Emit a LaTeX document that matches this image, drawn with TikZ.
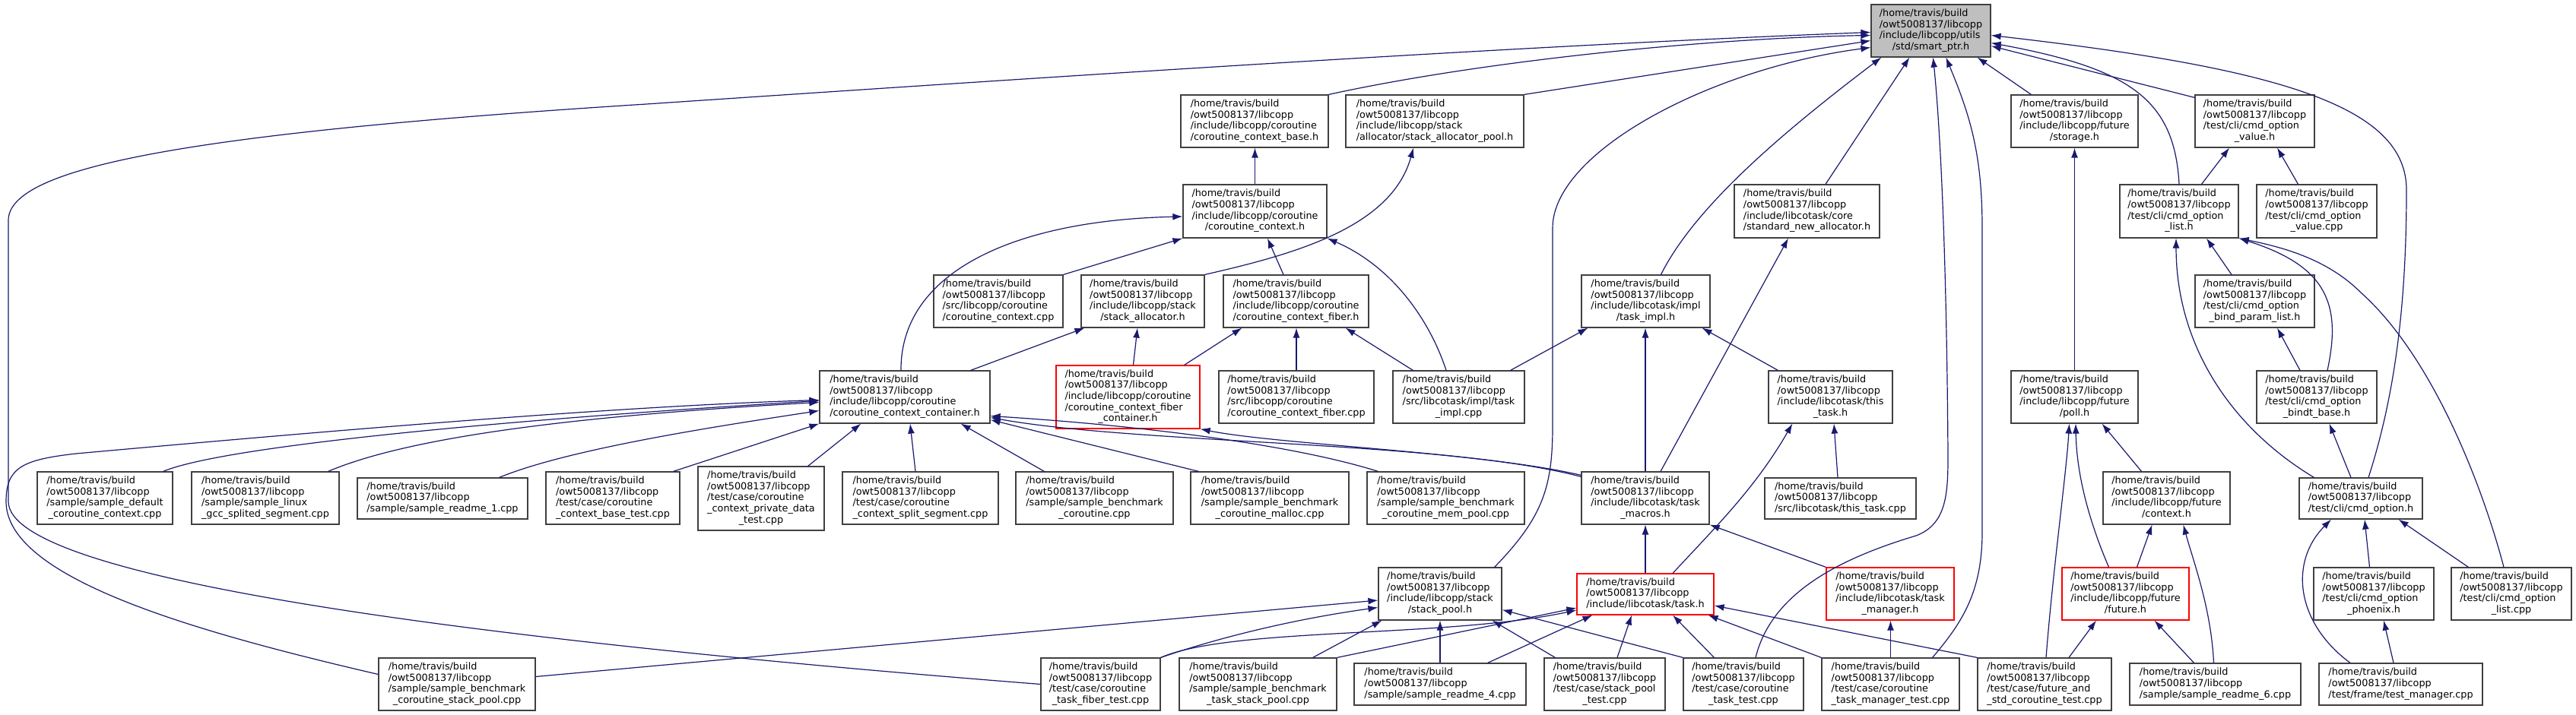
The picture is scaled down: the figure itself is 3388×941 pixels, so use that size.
\documentclass[tikz,border=0pt]{standalone}
\usepackage{fontspec}
\setmainfont{DejaVu Sans}
\usetikzlibrary{arrows.meta,calc}
\definecolor{mblue}{HTML}{191970}
\definecolor{bord}{HTML}{404040}
\definecolor{rootfill}{HTML}{BFBFBF}
\newcommand{\hd}{/home/travis/build\\/owt5008137/libcopp}
\newcommand{\Lf}[2]{\begin{tabular}{@{}l@{}}\hd\\#1\\\multicolumn{1}{@{}c@{}}{#2}\end{tabular}}
\newcommand{\Lt}[1]{\begin{tabular}{@{}l@{}}\hd\\#1\end{tabular}}
\newcommand{\nd}[7][]{\node[box,#1,minimum width={(#5-#3)*0.5pt},minimum height={(#6-#4)*0.5pt}] (#2) at ({(#3+#5)/2},{(#4+#6)/2}) {#7};}
\tikzset{
  box/.style={draw=bord,line width=0.6pt,fill=white,inner sep=0pt,rectangle,
    font=\fontsize{6.4pt}{7.35pt}\selectfont},
  redbox/.style={draw=red},
  rootbox/.style={fill=rootfill},
  edge/.style={draw=mblue,line width=0.6pt,-{Latex[length=6.5pt,width=4.5pt]}}
}
\begin{document}
\begin{tikzpicture}[x={(0.5pt,0)},y={(0,-0.5pt)}]
\fill[white] (0,0) rectangle (3388,941);
\useasboundingbox (0,0) rectangle (3388,941);
% nodes
\nd[rootbox]{root}{2461}{6}{2618}{75}{\Lf{/include/libcopp/utils}{/std/smart\_ptr.h}}
\nd{ctxbase}{1553}{125}{1747}{194}{\Lf{/include/libcopp/coroutine}{/coroutine\_context\_base.h}}
\nd{pool}{1770}{125}{2004}{194}{\Lf{/include/libcopp/stack}{/allocator/stack\_allocator\_pool.h}}
\nd{storage}{2645}{125}{2812}{194}{\Lf{/include/libcopp/future}{/storage.h}}
\nd{cmdvalh}{2887}{125}{3044}{194}{\Lf{/test/cli/cmd\_option}{\_value.h}}
\nd{ctxh}{1556}{243}{1745}{313}{\Lf{/include/libcopp/coroutine}{/coroutine\_context.h}}
\nd{stdnew}{2281}{243}{2472}{313}{\Lf{/include/libcotask/core}{/standard\_new\_allocator.h}}
\nd{cmdlisth}{2788}{243}{2944}{313}{\Lf{/test/cli/cmd\_option}{\_list.h}}
\nd{cmdvalcpp}{2968}{243}{3126}{313}{\Lf{/test/cli/cmd\_option}{\_value.cpp}}
\nd{ctxcpp}{1228}{362}{1398}{431}{\Lf{/src/libcopp/coroutine}{/coroutine\_context.cpp}}
\nd{stackalloc}{1422}{362}{1584}{431}{\Lf{/include/libcopp/stack}{/stack\_allocator.h}}
\nd{ctxfiber}{1609}{362}{1800}{431}{\Lf{/include/libcopp/coroutine}{/coroutine\_context\_fiber.h}}
\nd{taskimplh}{2080}{362}{2249}{431}{\Lf{/include/libcotask/impl}{/task\_impl.h}}
\nd{bindparam}{2887}{362}{3044}{431}{\Lf{/test/cli/cmd\_option}{\_bind\_param\_list.h}}
\nd{container}{1078}{488}{1302}{557}{\Lf{/include/libcopp/coroutine}{/coroutine\_context\_container.h}}
\nd[redbox]{fibercont}{1389}{481}{1578}{564}{\Lf{/include/libcopp/coroutine\\/coroutine\_context\_fiber}{\_container.h}}
\nd{fibercpp}{1603}{488}{1807}{557}{\Lf{/src/libcopp/coroutine}{/coroutine\_context\_fiber.cpp}}
\nd{taskimplcpp}{1832}{488}{2005}{557}{\Lf{/src/libcotask/impl/task}{\_impl.cpp}}
\nd{thistaskh}{2326}{488}{2489}{557}{\Lf{/include/libcotask/this}{\_task.h}}
\nd{poll}{2645}{488}{2812}{557}{\Lf{/include/libcopp/future}{/poll.h}}
\nd{bindt}{2968}{488}{3126}{557}{\Lf{/test/cli/cmd\_option}{\_bindt\_base.h}}
\nd{default}{49}{621}{227}{690}{\Lf{/sample/sample\_default}{\_coroutine\_context.cpp}}
\nd{linux}{252}{621}{446}{690}{\Lf{/sample/sample\_linux}{\_gcc\_splited\_segment.cpp}}
\nd{readmeA}{470}{629}{694}{683}{\Lt{/sample/sample\_readme\_1.cpp}}
\nd{basetest}{718}{621}{894}{690}{\Lf{/test/case/coroutine}{\_context\_base\_test.cpp}}
\nd{private}{918}{614}{1084}{698}{\Lf{/test/case/coroutine\\\_context\_private\_data}{\_test.cpp}}
\nd{split}{1108}{621}{1313}{690}{\Lf{/test/case/coroutine}{\_context\_split\_segment.cpp}}
\nd{benchcoro}{1336}{621}{1543}{690}{\Lf{/sample/sample\_benchmark}{\_coroutine.cpp}}
\nd{malloc}{1566}{621}{1774}{690}{\Lf{/sample/sample\_benchmark}{\_coroutine\_malloc.cpp}}
\nd{mempool}{1798}{621}{2005}{690}{\Lf{/sample/sample\_benchmark}{\_coroutine\_mem\_pool.cpp}}
\nd{macros}{2080}{621}{2248}{690}{\Lf{/include/libcotask/task}{\_macros.h}}
\nd{thistaskcpp}{2321}{629}{2520}{683}{\Lt{/src/libcotask/this\_task.cpp}}
\nd{context}{2766}{621}{2933}{690}{\Lf{/include/libcopp/future}{/context.h}}
\nd{cmdopt}{3024}{629}{3186}{683}{\Lt{/test/cli/cmd\_option.h}}
\nd{stackpool}{1813}{747}{1975}{816}{\Lf{/include/libcopp/stack}{/stack\_pool.h}}
\nd[redbox]{task}{2074}{755}{2254}{809}{\Lt{/include/libcotask/task.h}}
\nd[redbox]{taskmgr}{2402}{747}{2570}{816}{\Lf{/include/libcotask/task}{\_manager.h}}
\nd[redbox]{future}{2712}{747}{2879}{816}{\Lf{/include/libcopp/future}{/future.h}}
\nd{phoenix}{3043}{747}{3201}{816}{\Lf{/test/cli/cmd\_option}{\_phoenix.h}}
\nd{listcpp}{3224}{747}{3382}{816}{\Lf{/test/cli/cmd\_option}{\_list.cpp}}
\nd{benchctxsp}{498}{866}{704}{935}{\Lf{/sample/sample\_benchmark}{\_coroutine\_stack\_pool.cpp}}
\nd{fibertest}{1369}{866}{1526}{935}{\Lf{/test/case/coroutine}{\_task\_fiber\_test.cpp}}
\nd{benchtasksp}{1551}{866}{1758}{935}{\Lf{/sample/sample\_benchmark}{\_task\_stack\_pool.cpp}}
\nd{readmeD}{1781}{873}{2007}{928}{\Lt{/sample/sample\_readme\_4.cpp}}
\nd{sptest}{2031}{866}{2190}{935}{\Lf{/test/case/stack\_pool}{\_test.cpp}}
\nd{cotasktest}{2214}{866}{2372}{935}{\Lf{/test/case/coroutine}{\_task\_test.cpp}}
\nd{mgrtest}{2396}{866}{2577}{935}{\Lf{/test/case/coroutine}{\_task\_manager\_test.cpp}}
\nd{futurestd}{2601}{866}{2777}{935}{\Lf{/test/case/future\_and}{\_std\_coroutine\_test.cpp}}
\nd{readmeF}{2801}{873}{3026}{928}{\Lt{/sample/sample\_readme\_6.cpp}}
\nd{testmgr}{3050}{873}{3265}{928}{\Lt{/test/frame/test\_manager.cpp}}
% edges into root
\draw[edge] (ctxbase.north east) .. controls (1950,80) and (2250,50) .. ($(root.west)+(0,6)$);
\draw[edge] (pool.north east) -- ($(root.west)+(0,13)$);
\draw[edge] (fibertest.west) .. controls (600,840) and (11,760) .. (11,660) -- (11,290) .. controls (11,220) and (250,175) .. (850,137) .. controls (1400,100) and (2000,60) .. ($(root.west)+(0,2)$);
\draw[edge] ($(stackpool.north east)+(-10,0)$) .. controls (2030,680) and (2042,640) .. (2042,560) -- (2042,300) .. controls (2042,200) and (2250,90) .. ($(root.west)+(0,22)$);
\draw[edge] ($(taskimplh.north)+(20,0)$) .. controls (2230,270) and (2350,170) .. ($(root.south west)+(14,0)$);
\draw[edge] ($(stdnew.north)+(24.5,0)$) -- ($(root.south west)+(51,0)$);
\draw[edge] ($(cotasktest.north)+(16,0)$) .. controls (2330,780) and (2420,735) .. (2520,705) .. controls (2560,690) and (2562,650) .. (2562,600) .. controls (2560,300) and (2550,150) .. ($(root.south west)+(82,0)$);
\draw[edge] ($(mgrtest.north east)+(-36,0)$) .. controls (2580,820) and (2607,780) .. (2607,700) -- (2607,300) .. controls (2607,200) and (2590,150) .. ($(root.south west)+(99,0)$);
\draw[edge] ($(storage.north west)+(27,0)$) -- ($(root.south east)+(-18,0)$);
\draw[edge] ($(cmdopt.north)+(10,0)$) .. controls (3150,520) and (3165,400) .. (3165,250) .. controls (3165,140) and (3000,90) .. ($(root.east)+(0,6)$);
\draw[edge] (cmdlisth.north) .. controls (2860,130) and (2800,90) .. ($(root.east)+(0,16)$);
\draw[edge] ($(cmdvalh.north west)+(0,4)$) -- ($(root.east)+(0,20)$);
% coroutine part
\draw[edge] (ctxh.north) -- (ctxh.north |- ctxbase.south);
\draw[edge] (stackalloc.north east) .. controls (1700,335) and (1830,300) .. ($(pool.south)+(-28,0)$);
\draw[edge] (ctxcpp.north east) -- (ctxh.south west);
\draw[edge] ($(container.north)+(-5,0)$) .. controls (1184,360) and (1330,290) .. ($(ctxh.west)+(0,7)$);
\draw[edge] ($(ctxfiber.north)+(-16.5,0)$) -- ($(ctxh.south)+(16.5,0)$);
\draw[edge] ($(taskimplcpp.north)+(-16.5,0)$) .. controls (1880,420) and (1830,350) .. (ctxh.south east);
\draw[edge] ($(container.north east)+(-26,0)$) -- ($(stackalloc.south west)+(5,0)$);
\draw[edge] ($(fibercont.north)+(7,0)$) -- ($(stackalloc.south)+(-7,0)$);
\draw[edge] ($(fibercont.north east)+(-21,0)$) -- ($(ctxfiber.south west)+(25,0)$);
\draw[edge] (fibercpp.north) -- (fibercpp.north |- ctxfiber.south);
\draw[edge] ($(taskimplcpp.north west)+(27,0)$) -- ($(ctxfiber.south east)+(-31,0)$);
\draw[edge] ($(taskimplcpp.north east)+(-19,0)$) -- ($(taskimplh.south west)+(9,0)$);
\draw[edge] (macros.north) -- (macros.north |- taskimplh.south);
\draw[edge] ($(thistaskh.north west)+(13,0)$) -- ($(taskimplh.south east)+(-11,0)$);
\draw[edge] ($(macros.north)+(20,0)$) -- ($(stdnew.south)+(-24.5,0)$);
\draw[edge] ($(macros.north west)+(0,7)$) .. controls (1900,580) and (1500,585) .. ($(container.east)+(0,27)$);
\draw[edge] ($(macros.north west)+(0,5)$) .. controls (1950,595) and (1680,585) .. (fibercont.south east);
\draw[edge] ($(mempool.north west)+(15,0)$) .. controls (1700,585) and (1500,560) .. ($(container.east)+(0,25)$);
\draw[edge] ($(malloc.north west)+(11,0)$) -- ($(container.east)+(0,30)$);
\draw[edge] ($(benchcoro.north west)+(38,0)$) -- ($(container.south east)+(-39,0)$);
\draw[edge] ($(split.north)+(-6.5,0)$) -- ($(container.south)+(7,0)$);
\draw[edge] ($(private.north east)+(-22,0)$) -- ($(container.south west)+(55,0)$);
\draw[edge] ($(basetest.north east)+(-9,0)$) -- (container.south west);
\draw[edge] ($(readmeA.north east)+(-38,0)$) .. controls (750,590) and (950,560) .. ($(container.west)+(0,18)$);
\draw[edge] ($(linux.north east)+(-15,0)$) .. controls (550,570) and (800,545) .. ($(container.west)+(0,7)$);
\draw[edge] ($(default.north east)+(-13,0)$) .. controls (300,585) and (700,550) .. ($(container.west)+(0,5)$);
\draw[edge] ($(benchctxsp.west)+(0,-13)$) .. controls (250,830) and (8,760) .. (8,660) .. controls (8,615) and (30,605) .. (100,597) .. controls (400,570) and (800,535) .. ($(container.west)+(0,4)$);
% stack pool / task
\draw[edge] ($(benchctxsp.east)+(0,-10)$) -- ($(stackpool.west)+(0,8.5)$);
\draw[edge] (fibertest.north east) .. controls (1600,840) and (1700,815) .. ($(stackpool.west)+(0,18)$);
\draw[edge] (fibertest.north east) .. controls (1620,825) and (1900,840) .. ($(task.west)+(0,21)$);
\draw[edge] ($(benchtasksp.north east)+(-32,0)$) -- ($(stackpool.south west)+(5,0)$);
\draw[edge] (benchtasksp.north east) -- ($(task.west)+(0,18)$);
\draw[edge] (readmeD.north) -- (readmeD.north |- stackpool.south);
\draw[edge] ($(readmeD.north east)+(-51,0)$) -- ($(task.south west)+(21,0)$);
\draw[edge] ($(sptest.north west)+(15,0)$) -- ($(stackpool.south east)+(-13,0)$);
\draw[edge] ($(sptest.north)+(16.5,0)$) -- ($(task.south)+(-18,0)$);
\draw[edge] (cotasktest.north west) -- ($(stackpool.east)+(0,21)$);
\draw[edge] ($(cotasktest.north west)+(41,0)$) -- ($(task.south)+(36,0)$);
\draw[edge] (mgrtest.north west) -- ($(task.south east)+(-8,0)$);
\draw[edge] (futurestd.north west) -- ($(task.east)+(0,15)$);
\draw[edge] (mgrtest.north) -- (mgrtest.north |- taskmgr.south);
\draw[edge] (taskmgr.north west) -- (macros.south east);
\draw[edge] (task.north) -- (task.north |- macros.south);
\draw[edge] ($(task.north)+(36,0)$) .. controls (2260,690) and (2310,640) .. ($(thistaskh.south west)+(32,0)$);
\draw[edge] ($(thistaskcpp.north)+(-3.5,0)$) -- ($(thistaskh.south)+(4.5,0)$);
% future
\draw[edge] ($(futurestd.north)+(32,0)$) -- ($(future.south)+(-38.5,0)$);
\draw[edge] ($(readmeF.north)+(-28,0)$) -- ($(future.south)+(38,0)$);
\draw[edge] ($(future.north)+(-22,0)$) .. controls (2745,680) and (2731,620) .. ($(poll.south)+(1.5,0)$);
\draw[edge] ($(futurestd.north)+(2,0)$) .. controls (2700,750) and (2718,620) .. ($(poll.south)+(-7,0)$);
\draw[edge] ($(context.north)+(-33,0)$) -- ($(poll.south)+(36,0)$);
\draw[edge] ($(future.north)+(15,0)$) -- ($(context.south)+(-19,0)$);
\draw[edge] ($(readmeF.north)+(-2,0)$) .. controls (2908,800) and (2885,740) .. ($(context.south)+(22,0)$);
\draw[edge] (poll.north) -- (poll.north |- storage.south);
% cmd option
\draw[edge] ($(testmgr.north)+(-66.5,0)$) .. controls (3020,820) and (3010,740) .. ($(cmdopt.south)+(-39,0)$);
\draw[edge] ($(testmgr.north)+(-9.5,0)$) -- ($(phoenix.south)+(13,0)$);
\draw[edge] ($(phoenix.north)+(-5.5,0)$) -- ($(cmdopt.south)+(5,0)$);
\draw[edge] ($(listcpp.north west)+(23,0)$) -- ($(cmdopt.south east)+(-32,0)$);
\draw[edge] ($(cmdopt.north)+(-13,0)$) -- ($(bindt.south)+(16.5,0)$);
\draw[edge] ($(cmdopt.north west)+(20,0)$) .. controls (2930,560) and (2862,450) .. ($(cmdlisth.south)+(-4,0)$);
\draw[edge] ($(bindt.north)+(14,0)$) .. controls (3080,400) and (3060,350) .. (cmdlisth.south east);
\draw[edge] ($(bindt.north)+(-22,0)$) -- ($(bindparam.south)+(29.5,0)$);
\draw[edge] ($(bindparam.north)+(-30.5,0)$) -- ($(cmdlisth.south)+(36,0)$);
\draw[edge] ($(listcpp.north)+(-10,0)$) .. controls (3265,640) and (3200,470) .. (3105,385) .. controls (3060,340) and (3000,325) .. (cmdlisth.south east);
\draw[edge] ($(cmdlisth.north)+(29.5,0)$) -- ($(cmdvalh.south)+(-33.5,0)$);
\draw[edge] ($(cmdvalcpp.north)+(-24.5,0)$) -- ($(cmdvalh.south)+(29.5,0)$);
\end{tikzpicture}
\end{document}
